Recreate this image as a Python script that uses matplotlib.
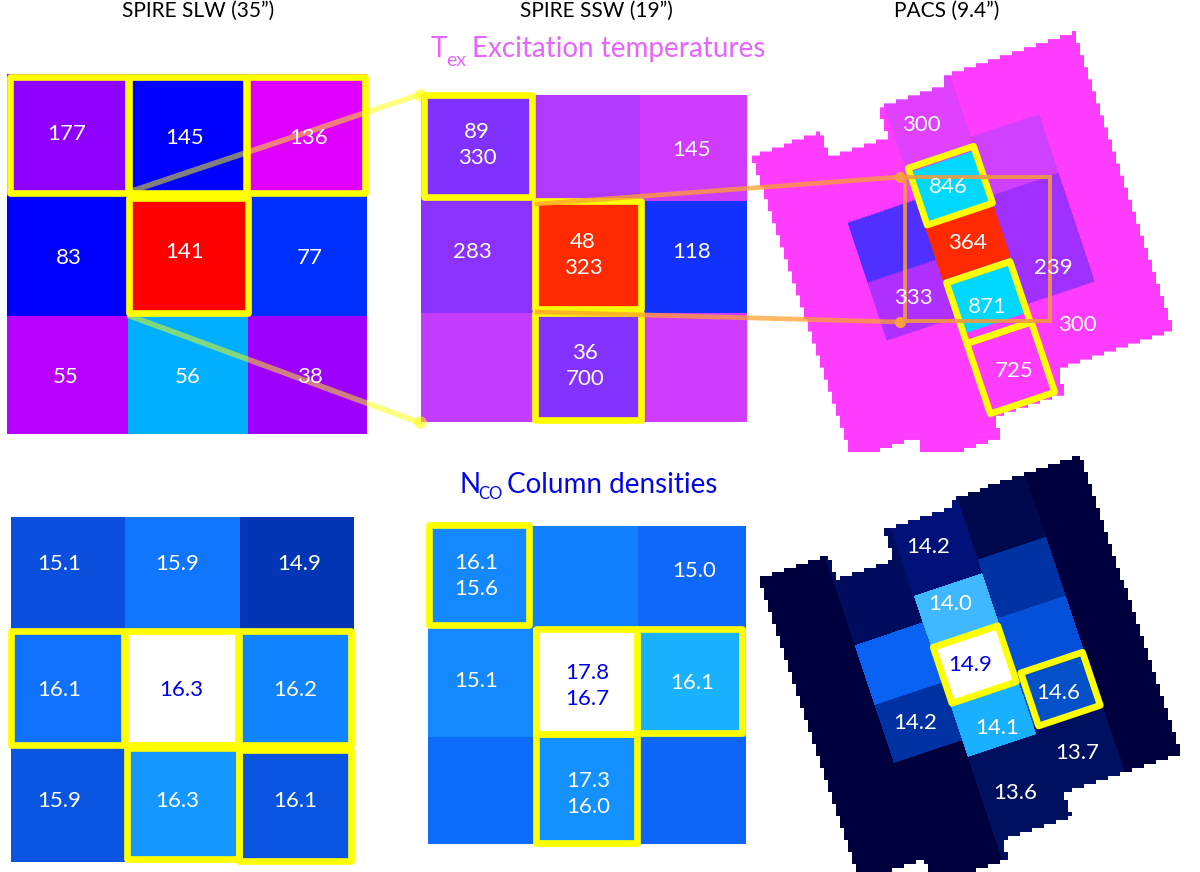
import numpy as np
import matplotlib
matplotlib.use('Agg')
import matplotlib.pyplot as plt
from matplotlib.colors import to_rgb
from matplotlib.patches import Rectangle
from matplotlib.transforms import Affine2D

plt.rcParams['font.family'] = ['Lato', 'DejaVu Sans']

# values printed in the cells
slw_tex = ['177', '145', '136', '83', '141', '77', '55', '56', '38']
ssw_tex = ['89\n330', '145', '283', '48\n323', '118', '36\n700']
pacs_tex = ['300', '846', '364', '239', '333', '871', '300', '725']
slw_nco = ['15.1', '15.9', '14.9', '16.1', '16.3', '16.2', '15.9', '16.3', '16.1']
ssw_nco = ['16.1\n15.6', '15.0', '15.1', '17.8\n16.7', '16.1', '17.3\n16.0']
pacs_nco = ['14.2', '14.0', '14.9', '14.6', '14.2', '14.1', '13.7', '13.6']

# cell colours
slw_tex_col = [['#9000ff', '#0000ff', '#e000ff'],
               ['#0000ff', '#ff0000', '#0030ff'],
               ['#b800ff', '#00b0ff', '#9e00ff']]
ssw_tex_col = [['#8030ff', '#b038ff', '#d03cff'],
               ['#8c32ff', '#ff2a00', '#1432ff'],
               ['#c43cff', '#8432ff', '#d03cff']]
slw_nco_col = [['#0a50dc', '#1076ff', '#0336b4'],
               ['#1070ff', '#ffffff', '#1084ff'],
               ['#0a55e0', '#1498ff', '#0a55e0']]
ssw_nco_col = [['#1488ff', '#1080ff', '#0e68fa'],
               ['#1488ff', '#ffffff', '#18b2ff'],
               ['#0e6cfa', '#1490ff', '#0e66f8']]

pink = '#ff3cff'
pacs_tex_col = [[pink],
                [pink, '#5030ff', '#b030ff', pink],
                ['#e040ff', '#00d8ff', '#ff2a00', '#00d8ff', pink],
                [pink, '#d040ff', '#a030ff', '#a030ff', pink],
                [pink]]
navy = '#00003e'
pacs_nco_col = [[navy],
                ['#000c5e', '#0a62f4', '#0032a4', navy],
                ['#00127a', '#40b8ff', '#ffffff', '#18b0ff', '#001060'],
                ['#00084e', '#0032a4', '#0550d8', '#0450c8', '#001060'],
                [navy]]

# PACS layout in the rotated frame (pixels from the central spaxel)
pacs_angle = 18.5
col_edges = [-108, -36, 36, 108]
row_edges = [[],
             [-57, 6, 67],
             [-85, -28, 28, 85],
             [-99, -37, 20, 77],
             []]
# outline of the map, it steps at the top and bottom
u_left, u_right = -178, 167
top_steps, top_v = [-104, -43, 29], [-151, -125, -157, -165]
bot_steps, bot_v = [-110, -30, 44], [168, 195, 174, 149]

fig = plt.figure(figsize=(12, 8.72), dpi=100)
ax = fig.add_axes([0, 0, 1, 1])


def grid(x, y, colors):
    rgb = np.array([[to_rgb(c) for c in row] for row in colors])
    ax.pcolormesh(x, y, rgb, zorder=1)


def yellow_box(x0, y0, x1, y1):
    ax.add_patch(Rectangle((x0, y0), x1 - x0, y1 - y0, fill=False, ec='#ffff00',
                           lw=4.8, joinstyle='round', zorder=3))


def yellow_bar(x, y0, y1):
    ax.plot([x, x], [y0, y1], color='#ffff00', lw=5.5, solid_capstyle='butt', zorder=3)


def pacs(cx, cy, colors, ytop, ybot, xmin=740, xmax=1200):
    xx, yy = np.meshgrid(np.arange(xmin, xmax) + 0.5, np.arange(ytop, ybot) + 0.5)
    t = np.radians(pacs_angle)
    c, s = np.cos(t), np.sin(t)
    uu = (xx - cx) * c - (yy - cy) * s
    vv = (xx - cx) * s + (yy - cy) * c
    # blocky outline, the map has coarse pixels
    bx, by = np.floor(xx / 4) * 4 + 2, np.floor(yy / 4) * 4 + 2
    bu = (bx - cx) * c - (by - cy) * s
    bv = (bx - cx) * s + (by - cy) * c
    inside = (bu >= u_left) & (bu < u_right)
    inside &= bv >= np.array(top_v)[np.digitize(bu, top_steps)]
    inside &= bv < np.array(bot_v)[np.digitize(bu, bot_steps)]

    img = np.ones(xx.shape + (4,))
    img[..., 3] = 0
    cols = np.digitize(uu, col_edges)
    for i in range(5):
        rows = np.digitize(vv, row_edges[i])
        for j, col in enumerate(colors[i]):
            m = inside & (cols == i) & (rows == j)
            img[m, :3] = to_rgb(col)
            img[m, 3] = 1
    ax.imshow(img, extent=(xmin, xmax, ybot, ytop), aspect='auto',
              interpolation='bilinear', zorder=1)


def pacs_box(cx, cy, u0, v0, u1, v1):
    tr = Affine2D().rotate_deg(-pacs_angle).translate(cx, cy) + ax.transData
    ax.add_patch(Rectangle((u0, v0), u1 - u0, v1 - v0, fill=False, ec='#ffff00', lw=4.8,
                           joinstyle='round', transform=tr, zorder=3))


def labels(vals, pos, size=16, blue=()):
    for i, (v, p) in enumerate(zip(vals, pos)):
        ax.text(p[0], p[1] + 1, v, color='#0000e6' if i in blue else 'white', fontsize=size,
                ha='center', va='center', linespacing=1.38, zorder=6)


# excitation temperature row
grid([7, 128, 248, 367], [74, 196, 316, 434], slw_tex_col)
grid([421, 533, 640, 747], [95, 201, 313, 422], ssw_tex_col)
pacs(968, 243, pacs_tex_col, 20, 452)

yellow_box(10, 77, 365, 193)
yellow_bar(129, 77, 193)
yellow_bar(247, 77, 193)
yellow_box(129, 198, 248, 313)
yellow_box(424, 95, 532, 197)
yellow_box(535, 201, 641, 309)
yellow_box(535, 313, 641, 420)
pacs_box(968, 243, -33, -90, 36, -30)
pacs_box(968, 243, -33, 31, 34, 95)
pacs_box(968, 243, -33, 95, 35, 169)

# zoom lines between the panels
for yend, ystart, xstart in [(95, 190, 135), (422, 316, 130)]:
    ax.plot([xstart, 418], [ystart, yend], color='#ffff00', alpha=0.5, lw=4, zorder=4)
    ax.plot([420], [yend], 'o', color='#ffff00', alpha=0.55, ms=9, mew=0, zorder=4)
for ystart, yend in [(204, 177), (312, 322)]:
    ax.plot([537, 900], [ystart, yend], color='#ffa030', alpha=0.75, lw=3.4, zorder=4)
    ax.plot([900], [yend], 'o', color='#f8a040', ms=8, mew=0, zorder=4)
ax.add_patch(Rectangle((905, 177), 145, 144, fill=False, ec='#f09a40', alpha=0.9, lw=2.8, zorder=4))

labels(slw_tex, [(67, 133), (185, 137), (309, 137), (69, 257), (185, 251), (310, 257),
                 (66, 376), (188, 376), (310, 376)])
labels(ssw_tex, [(477, 144), (692, 149), (472, 251), (583, 254), (692, 251), (585, 365)])
labels(pacs_tex, [(921, 124), (948, 186), (967, 242), (1053, 267), (913, 297), (987, 306),
                  (1077, 324), (1014, 370)])

# column density row
grid([11, 125, 240, 354], [517, 630, 748, 862], slw_nco_col)
grid([428, 533, 638, 746], [526, 628, 737, 844], ssw_nco_col)
pacs(975, 665, pacs_nco_col, 445, 872)

yellow_box(11, 631, 351, 745)
yellow_bar(124.5, 631, 745)
yellow_bar(238.5, 631, 745)
yellow_box(127, 748, 238.5, 859)
yellow_box(238.5, 750, 351, 861)
yellow_box(429, 525, 529, 625)
yellow_box(536, 629, 637, 734)
yellow_box(637, 629, 742, 733)
yellow_box(536, 734, 637, 843)
pacs_box(975, 665, -34, -30, 34, 29)
pacs_box(975, 665, 41, 22, 106, 78)

labels(slw_nco, [(59, 563), (177, 563), (299, 563), (59, 689), (181, 689), (295, 689),
                 (59, 800), (177, 800), (295, 800)], blue=(4,))
labels(ssw_nco, [(476, 575), (694, 570), (476, 680), (587, 685), (692, 682), (588, 793)], blue=(3,))
labels(pacs_nco, [(928, 546), (950, 603), (970, 664), (1058, 692), (915, 722), (997, 727),
                  (1077, 752), (1015, 792)], blue=(2,))

# headings
ax.text(198, 11, 'SPIRE SLW (35”)', fontsize=15, ha='center', va='center', color='black')
ax.text(596, 11, 'SPIRE SSW (19”)', fontsize=15, ha='center', va='center', color='black')
ax.text(947, 11, 'PACS (9.4”)', fontsize=15, ha='center', va='center', color='black')

ax.text(431, 49, 'T', fontsize=20, color='#e665ff', ha='left', va='center')
ax.text(446, 60, 'ex', fontsize=14, color='#e665ff', ha='left', va='center')
ax.text(472, 49, 'Excitation temperatures', fontsize=20, color='#e665ff', ha='left', va='center')
ax.text(459, 485, 'N', fontsize=20, color='#0505e6', ha='left', va='center')
ax.text(478, 494, 'CO', fontsize=12, color='#0505e6', ha='left', va='center')
ax.text(507, 485, 'Column densities', fontsize=20, color='#0505e6', ha='left', va='center')

ax.set_xlim(0, 1200)
ax.set_ylim(872, 0)
ax.axis('off')

fig.savefig('out.png', dpi=100)
